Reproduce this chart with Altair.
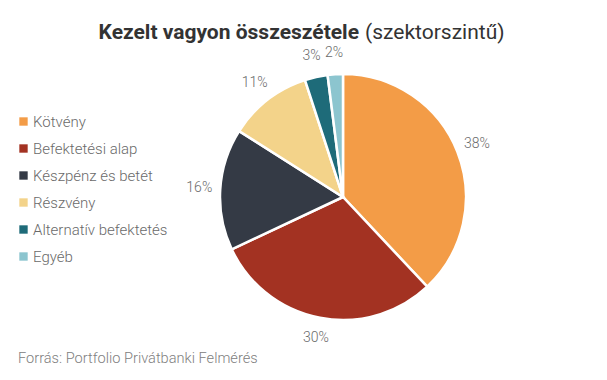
import altair as alt
import pandas as pd

categories = ["Kötvény", "Befektetési alap", "Készpénz és betét", "Részvény", "Alternatív befektetés", "Egyéb"]
values = [38, 30, 16, 11, 3, 2]
colors = ["#F39C47", "#A33222", "#343A45", "#F3D38A", "#1E6B79", "#8CC5CF"]

df = pd.DataFrame({"cat": categories, "val": values, "idx": list(range(len(values)))})
df["label"] = df["val"].astype(str) + "%"

FONT = "Roboto"
CX, CY = 335, 189

base = alt.Chart(df).encode(
    theta=alt.Theta("val:Q", stack=True),
    order=alt.Order("idx:Q"),
)

pie = base.mark_arc(outerRadius=123, stroke="white", strokeWidth=2.5).encode(
    x=alt.value(CX), y=alt.value(CY),
    color=alt.Color(
        "cat:N",
        scale=alt.Scale(domain=categories, range=colors),
        sort=categories,
        legend=alt.Legend(
            title=None, orient="none", legendX=8, legendY=106,
            symbolType="square", symbolSize=70, symbolStrokeWidth=0,
            labelFont=FONT, labelFontSize=15, labelFontWeight=300, labelColor="#6a6a6a",
            rowPadding=11, labelOffset=2,
        ),
    ),
)

labels = base.mark_text(radius=144, font=FONT, fontSize=14, fontWeight=300, color="#6a6a6a").encode(
    x=alt.value(CX), y=alt.value(CY), text="label:N"
)

t1 = alt.Chart(pd.DataFrame({"t": ["Kezelt vagyon összeszétele"]})).mark_text(
    font=FONT, fontSize=21, fontWeight="bold", color="#333333", align="right", baseline="alphabetic"
).encode(x=alt.value(351), y=alt.value(31), text="t:N")

t2 = alt.Chart(pd.DataFrame({"t": ["(szektorszintű)"]})).mark_text(
    font=FONT, fontSize=21, color="#333333", align="left", baseline="alphabetic"
).encode(x=alt.value(357), y=alt.value(31), text="t:N")

src = alt.Chart(pd.DataFrame({"t": ["Forrás: Portfolio Privátbanki Felmérés"]})).mark_text(
    font=FONT, fontSize=14.6, fontWeight=300, color="#808080", align="left", baseline="alphabetic"
).encode(x=alt.value(10), y=alt.value(355), text="t:N")

chart = alt.layer(pie, labels, t1, t2, src).properties(
    width=591, height=364, padding=0, autosize=alt.AutoSizeParams(type="none"),
).configure_view(stroke=None)

chart.save("out.html", embed_options={"renderer": "svg", "actions": False})
